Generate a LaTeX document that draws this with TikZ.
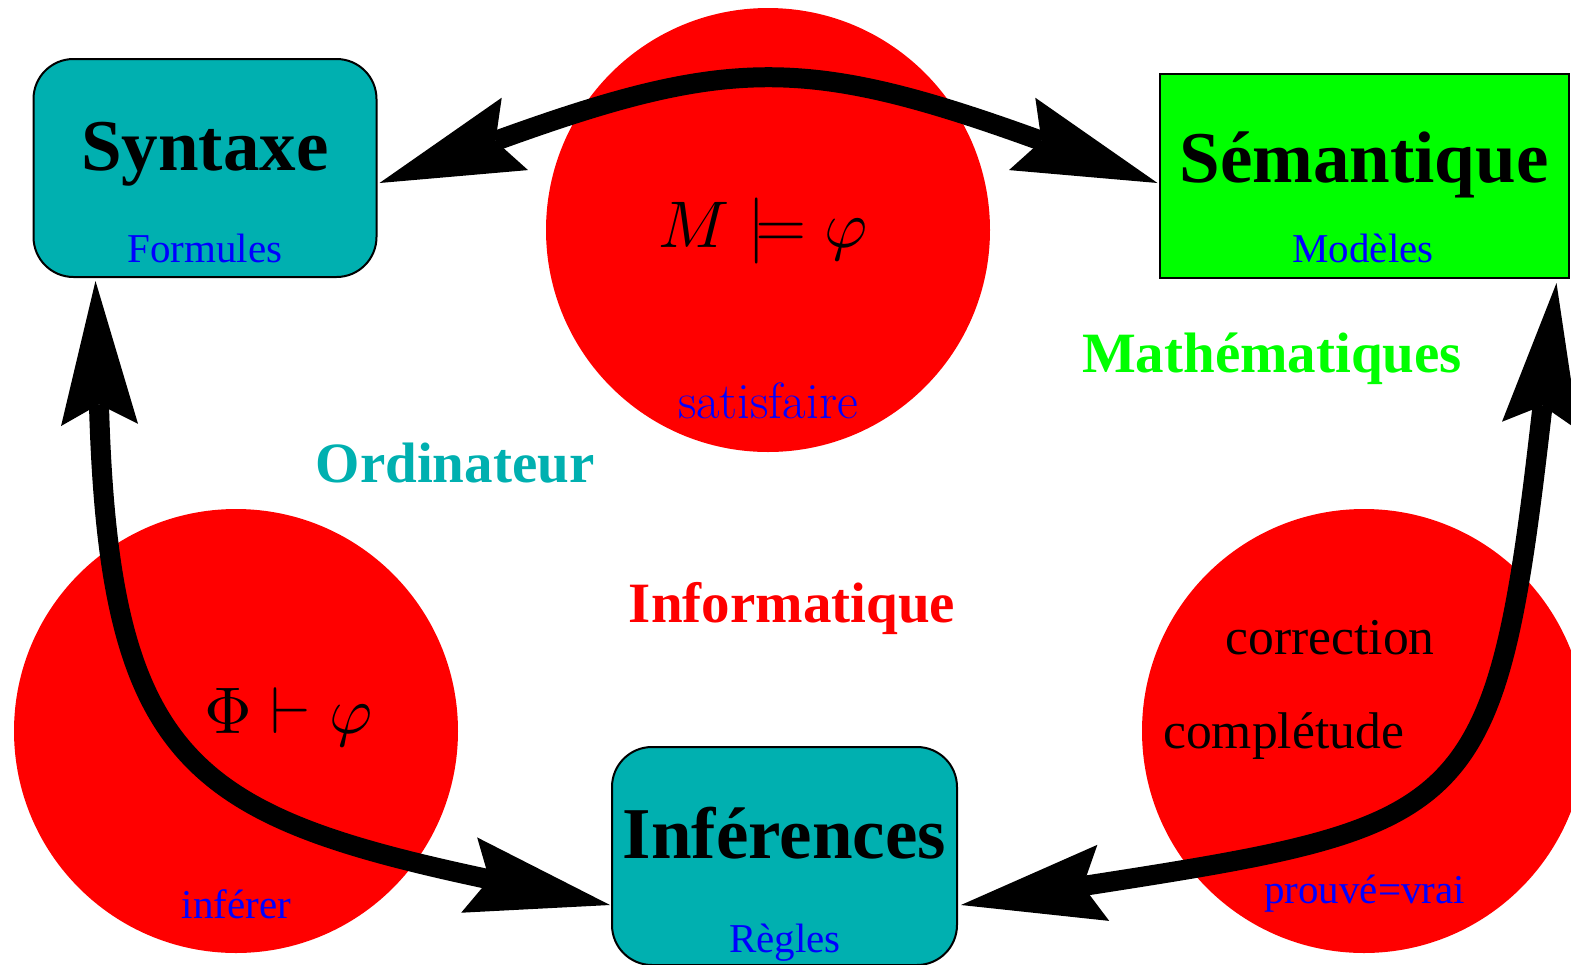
\documentclass[tikz,border=0pt]{standalone}
\usepackage[no-math]{fontspec}
\usepackage{graphicx}
\setmainfont{Liberation Serif}
\newfontfamily\lmr{Latin Modern Roman}
\usetikzlibrary{arrows.meta,calc}
\definecolor{boxcyan}{RGB}{0,176,176}
\definecolor{pgreen}{RGB}{0,255,0}
\tikzset{
  disc/.style={circle, fill=red, draw=none, minimum size=222pt, inner sep=0pt},
  roundbox/.style={draw=black, line width=1pt, fill=boxcyan, rounded corners=20pt, inner sep=0pt},
  sharpbox/.style={draw=black, line width=1pt, fill=pgreen, inner sep=0pt},
  boxtitle/.style={font=\fontsize{36.5}{40}\selectfont\bfseries, anchor=base, inner sep=0pt},
  subtitle/.style={font=\fontsize{20.5}{24}\selectfont, text=blue, anchor=base, inner sep=0pt},
  fieldlabel/.style={font=\fontsize{28.5}{32}\selectfont\bfseries, anchor=base, inner sep=0pt},
  formula/.style={anchor=base, inner sep=0pt},
  remark/.style={font=\fontsize{25.8}{30}\selectfont, anchor=base, inner sep=0pt},
  bigtip/.tip={Stealth[length=72pt,width=38.5pt,inset=10.3pt,line width=0pt]},
  bigarrow/.style={line width=10pt, bigtip-bigtip}
}
\begin{document}
\begin{tikzpicture}[x=0.5pt,y=-0.5pt]
\useasboundingbox (0,0) rectangle (1571,965);
% red discs
\node[disc] (ctop) at (768,230) {};
\node[disc] (cleft) at (236,731) {};
\node[disc] (cright) at (1364,731) {};
% texts in discs
\node[formula] (models) at (763,247) {\scalebox{3.3}{$M \models \varphi$}};
\node[subtitle, font=\fontsize{25.5}{28}\selectfont\lmr] (sat) at (768,418) {satisfaire};
\node[formula] (proves) at (288.5,733) {\scalebox{3.3}{$\Phi \vdash \varphi$}};
\node[subtitle] (inf1) at (236.5,918) {inférer};
\node[remark] (corr) at (1330,654) {correction};
\node[remark] (compl) at (1283.5,748) {complétude};
\node[subtitle] (pv) at (1364.5,903) {prouvé=vrai};
% field labels
\node[fieldlabel, text=boxcyan] (ordi) at (455,482) {Ordinateur};
\node[fieldlabel, text=pgreen] (math) at (1272,372) {Mathématiques};
\node[fieldlabel, text=red] (info) at (792,622) {Informatique};
% boxes
\node[roundbox, minimum width=171.5pt, minimum height=109pt] (syn) at (205,168) {};
\node[sharpbox, minimum width=204.5pt, minimum height=102pt] (sem) at (1364,176) {};
\node[roundbox, minimum width=172.5pt, minimum height=109pt] (inf) at (784.5,856) {};
\node[boxtitle] (synt) at (205,170) {Syntaxe};
\node[subtitle] (syns) at (205,262) {Formules};
\node[boxtitle] (semt) at (1364,182) {Sémantique};
\node[subtitle] (sems) at (1363,262) {Modèles};
\node[boxtitle] (inft) at (784.5,858) {Inférences};
\node[subtitle] (infs) at (785,952) {Règles};
% arrows
\draw[bigarrow] ($(syn.east)+(2,15)$) .. controls +(350,-127) and +(-350,-127) .. ($(sem.west)+(-1,7)$);
\draw[bigarrow] ($(syn.south west)+(63,3)$) .. controls +(13.5,480) and +(-420.5,-89.4) .. ($(inf.west)+(-1,49)$);
\draw[bigarrow] ($(sem.south east)+(-13,4)$) .. controls +(-61,537) and +(514,-80) .. ($(inf.east)+(3,49)$);
\end{tikzpicture}
\end{document}
